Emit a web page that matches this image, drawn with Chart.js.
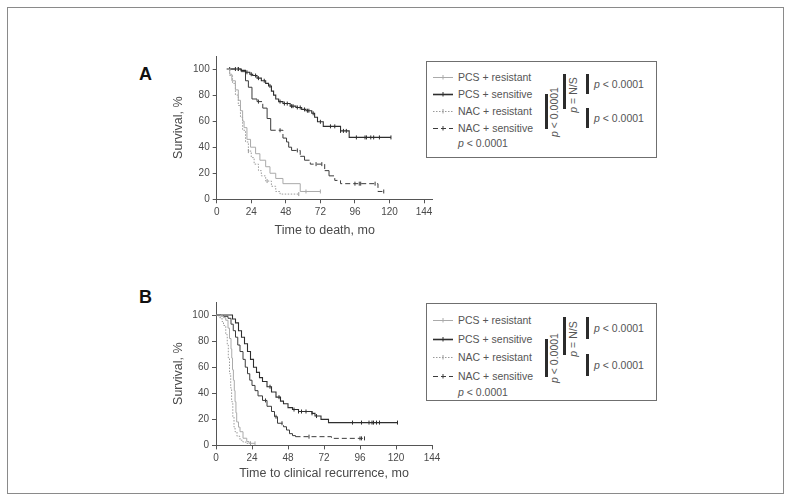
<!DOCTYPE html>
<html lang="en">
<head>
<meta charset="UTF-8">
<title>Survival by surgery and platinum response</title>
<style>
    body {
        margin: 0;
        padding: 0;
        background: #fff;
        font-family: 'Liberation Sans', Arial, sans-serif;
    }

    .frame {
        position: absolute;
        left: 7px;
        top: 7px;
        width: 775px;
        height: 485px;
        border: 1px solid #8a8a8a;
    }

    .tag {
        position: absolute;
        left: 139px;
        font-size: 18px;
        font-weight: bold;
        color: #111;
    }

    .wrap {
        position: absolute;
        left: 140px;
        width: 310px;
        height: 210px;
    }

    .key {
        position: absolute;
        left: 426px;
        width: 229px;
        border: 1px solid #6f6f6f;
        background: #fff;
        color: #555;
        font-size: 10.5px;
    }

    .key div, .key svg {
        position: absolute;
        white-space: nowrap;
    }
</style>
</head>
<body>
<div class="frame"></div>

<div class="tag" style="top:64px">A</div>
<div class="wrap" style="top:40px"><canvas id="chartA" width="310" height="210"></canvas></div>
<div class="key" id="keyA" style="top:61px;height:95px"></div>

<div class="tag" style="top:287px">B</div>
<div class="wrap" style="top:282px"><canvas id="chartB" width="310" height="210"></canvas></div>
<div class="key" id="keyB" style="top:303px;height:96px"></div>

<script src="https://cdn.jsdelivr.net/npm/chart.js@4.4.1/dist/chart.umd.min.js"></script>
<script>
(function() {
    'use strict';

    // axis ticks
    const monthTicks = [0, 24, 48, 72, 96, 120, 144];
    const pctTicks = [0, 20, 40, 60, 80, 100];

    const groups = ['PCS + resistant', 'PCS + sensitive', 'NAC + resistant', 'NAC + sensitive'];

    // A: time to death (months / survival %)
    const aPcsResT = [7, 9, 10.5, 13, 15, 16.5, 18, 19, 21, 23.5, 27, 30, 34, 37, 41, 46, 58, 72];
    const aPcsResS = [100, 96, 91, 84, 76, 68, 60, 55, 46, 40, 35, 30, 25, 20, 16, 12, 6, 6];
    const aPcsResC = [62, 72];

    const aPcsSenT = [7, 17, 20, 23, 25, 28, 31, 34, 36, 38, 39.5, 41, 43, 46, 51, 55, 59, 62, 66, 68, 70, 74, 86, 92, 121];
    const aPcsSenS = [100, 99, 97.5, 96, 95, 93, 91, 89, 87, 83, 80, 77, 75, 73.5, 71.5, 70.5, 69, 68, 66, 63, 59.5, 56, 52.5, 47.5, 47.5];
    const aPcsSenC = [9, 13, 15, 21, 24, 27, 29, 33, 37, 44, 47, 49, 52, 53, 56, 58, 61, 63, 64, 67, 72, 79, 82, 86, 88, 90, 97, 103, 104, 107, 109, 113, 121];

    const aNacResT = [7, 9, 11, 13, 15, 16.5, 18, 20, 22, 24, 26, 29, 31, 34, 38, 41, 44, 57];
    const aNacResS = [100, 95, 89, 80, 72, 63, 53, 44, 37, 32, 27, 22, 18, 14, 10, 6, 4, 4];
    const aNacResC = [22, 35, 57];

    const aNacSenT = [10, 17, 20, 22, 24.5, 28, 32, 35, 37.5, 46, 48.5, 50, 52, 58, 61, 65, 75, 78, 82, 86, 112, 116];
    const aNacSenS = [100, 98, 91, 86, 77, 75, 70, 62, 53, 47, 44, 40, 37.5, 33, 30, 27, 22, 18, 14.5, 12, 6, 6];
    const aNacSenC = [15, 29, 44, 56, 69, 73, 96, 99, 100, 110, 116];

    // B: time to clinical recurrence
    const bPcsResT = [0, 3, 5, 6.5, 8, 9, 10, 10.5, 11, 11.6, 12.2, 12.7, 13.3, 13.8, 15, 16, 18, 20.5, 22, 26];
    const bPcsResS = [100, 99, 98, 96, 90, 82, 74, 67, 58, 50, 42, 33.5, 25, 18, 14, 10.5, 5.5, 3, 1.6, 1.6];
    const bPcsResC = [26];

    const bPcsSenT = [0, 11, 13, 15, 17, 19, 21, 23, 25, 27, 29, 31, 34, 37, 40, 43, 45, 48, 51, 55, 64, 66, 70, 75, 121];
    const bPcsSenS = [100, 97, 94, 88, 83, 78, 72, 66, 60, 56, 52, 49, 45, 41, 37, 34, 32, 29, 27.5, 26, 24.6, 22.5, 20, 17.5, 17.5];
    const bPcsSenC = [36, 42, 52, 55, 57, 60, 64, 67, 91, 97, 102, 104, 105, 107, 109, 121];

    const bNacResT = [0, 2, 4, 5, 6.5, 7.5, 8.2, 9, 9.8, 10.4, 11.2, 12, 12.7, 14, 16, 18, 20.5, 23];
    const bNacResS = [100, 98, 95, 92, 85, 77, 67, 55, 44, 33.5, 22, 14, 10.5, 7, 4, 2.5, 1.6, 1.6];
    const bNacResC = [23];

    const bNacSenT = [0, 5, 8, 10, 11.5, 13, 14.5, 16, 18, 19.5, 21, 22.5, 24, 26, 28, 31, 34, 37, 39, 41, 45, 47, 49, 51, 53, 77, 99];
    const bNacSenS = [100, 99, 97.5, 93, 88, 83, 77, 72, 66, 60, 55, 50, 46, 42, 38, 34.5, 30, 26, 22, 17, 14.3, 11.8, 9, 7.5, 6.7, 5.4, 5.4];
    const bNacSenC = [33, 40, 44, 62, 96, 97, 99];

    // line look per group, same order as groups
    const looks = [
        { color: '#aaaaaa', width: 1, dash: [] },
        { color: '#2e2e2e', width: 1.1, dash: [] },
        { color: '#9a9a9a', width: 1, dash: [1.5, 1.5] },
        { color: '#3c3c3c', width: 1, dash: [5, 3], longOnly: true }
    ];

    const txt = '#4a4a4a';
    const axisCol = '#555';

    function points(T, S) {
        return T.map(function(t, i) { return { x: t, y: S[i] }; });
    }

    function survAt(T, S, t) {
        var v = S[0];
        for (var i = 0; i < T.length; i++) {
            if (T[i] <= t) v = S[i];
        }
        return v;
    }

    function censorPoints(T, S, C) {
        return C.map(function(t) { return { x: t, y: survAt(T, S, t) }; });
    }

    function buildDatasets(curves) {
        var sets = [];
        curves.forEach(function(c, i) {
            var lk = looks[i];
            var ds = {
                label: groups[i],
                data: points(c[0], c[1]),
                stepped: 'before',
                borderColor: lk.color,
                borderWidth: lk.width,
                borderDash: lk.longOnly ? [] : lk.dash,
                pointRadius: 0,
                fill: false
            };
            if (lk.longOnly) {
                // dashes show only on the flat stretches
                ds.segment = {
                    borderDash: function(ctx) {
                        return ctx.p1.parsed.x - ctx.p0.parsed.x > 3.5 ? lk.dash : [];
                    }
                };
            }
            sets.push(ds);
        });
        curves.forEach(function(c, i) {
            var lk = looks[i];
            sets.push({
                label: groups[i] + ' censored',
                data: censorPoints(c[0], c[1], c[2]),
                showLine: false,
                pointStyle: 'line',
                rotation: 90,
                pointRadius: 2,
                pointBorderColor: lk.color,
                pointBorderWidth: 1,
                borderColor: lk.color
            });
        });
        return sets;
    }

    function makeChart(id, curves, cfg) {
        var ctx = document.getElementById(id).getContext('2d');
        return new Chart(ctx, {
            type: 'line',
            data: { datasets: buildDatasets(curves) },
            options: {
                responsive: false,
                animation: false,
                devicePixelRatio: 1,
                layout: { padding: cfg.pad },
                plugins: { legend: { display: false }, tooltip: { enabled: false } },
                scales: {
                    x: {
                        type: 'linear',
                        min: 0,
                        max: cfg.xMax,
                        afterBuildTicks: function(s) {
                            s.ticks = monthTicks.map(function(v) { return { value: v }; });
                        },
                        afterFit: function(s) { s.height = cfg.xH; },
                        ticks: {
                            color: txt,
                            padding: 3,
                            maxRotation: 0,
                            autoSkip: false,
                            font: { family: 'Liberation Sans', size: 10 }
                        },
                        grid: { drawOnChartArea: false, tickLength: 4, color: axisCol },
                        border: { color: axisCol, width: 1 },
                        title: {
                            display: true,
                            text: cfg.xTitle,
                            color: txt,
                            padding: 0,
                            font: { family: 'Liberation Sans', size: 12.5 }
                        }
                    },
                    y: {
                        min: 0,
                        max: 110,
                        afterBuildTicks: function(s) {
                            s.ticks = pctTicks.map(function(v) { return { value: v }; });
                        },
                        afterFit: function(s) { s.width = cfg.yW; },
                        ticks: {
                            color: txt,
                            padding: 3,
                            font: { family: 'Liberation Sans', size: 10 }
                        },
                        grid: { drawOnChartArea: false, tickLength: 4, color: axisCol },
                        border: { color: axisCol, width: 1 },
                        title: {
                            display: true,
                            text: 'Survival, %',
                            color: txt,
                            padding: 0,
                            font: { family: 'Liberation Sans', size: 12.5 }
                        }
                    }
                }
            }
        });
    }

    makeChart('chartA', [
        [aPcsResT, aPcsResS, aPcsResC],
        [aPcsSenT, aPcsSenS, aPcsSenC],
        [aNacResT, aNacResS, aNacResC],
        [aNacSenT, aNacSenS, aNacSenC]
    ], {
        xMax: 150,
        xTitle: 'Time to death, mo',
        pad: { left: 31, right: 17.3, top: 16, bottom: 11.5 },
        yW: 45.7,
        xH: 39.2
    });

    makeChart('chartB', [
        [bPcsResT, bPcsResS, bPcsResC],
        [bPcsSenT, bPcsSenS, bPcsSenC],
        [bNacResT, bNacResS, bNacResC],
        [bNacSenT, bNacSenS, bNacSenC]
    ], {
        xMax: 144,
        xTitle: 'Time to clinical recurrence, mo',
        pad: { left: 31, right: 18, top: 20, bottom: 10.5 },
        yW: 45,
        xH: 36.1
    });

    // legend boxes with the p-value brackets
    function el(parent, html, css) {
        var d = document.createElement('div');
        d.innerHTML = html;
        d.style.cssText = css;
        parent.appendChild(d);
        return d;
    }

    function sample(parent, y, lk) {
        var ns = 'http://www.w3.org/2000/svg';
        var svg = document.createElementNS(ns, 'svg');
        svg.setAttribute('width', '20');
        svg.setAttribute('height', '8');
        svg.style.left = '6px';
        svg.style.top = (y - 4) + 'px';
        var ln = document.createElementNS(ns, 'line');
        ln.setAttribute('x1', '0'); ln.setAttribute('x2', '20');
        ln.setAttribute('y1', '4.5'); ln.setAttribute('y2', '4.5');
        ln.setAttribute('stroke', lk.color);
        ln.setAttribute('stroke-width', lk.width === 1 ? '1' : '1.6');
        if (lk.dash.length) ln.setAttribute('stroke-dasharray', lk.dash.join(' '));
        var tk = document.createElementNS(ns, 'line');
        tk.setAttribute('x1', '10'); tk.setAttribute('x2', '10');
        tk.setAttribute('y1', '2'); tk.setAttribute('y2', '6.5');
        tk.setAttribute('stroke', lk.color);
        svg.appendChild(ln);
        svg.appendChild(tk);
        parent.appendChild(svg);
    }

    function buildKey(id, base, gap) {
        var key = document.getElementById(id);
        var rows = [0, 1, 2, 3].map(function(i) { return base + i * gap; });
        groups.forEach(function(g, i) {
            sample(key, rows[i], looks[i]);
            el(key, g, 'left:31px;top:' + (rows[i] - 7) + 'px;line-height:14px');
        });
        el(key, '<i>p</i> &lt; 0.0001', 'left:31px;top:' + (rows[3] + gap - 9) + 'px;line-height:14px');

        var b1 = [rows[1], rows[3] + 1];
        var b2 = [rows[0] - 3, rows[2] - 2];
        var b3 = [rows[0] - 3, rows[1]];
        var b4 = [rows[2] - 3, rows[3]];
        [[118, b1], [136, b2], [159, b3], [159, b4]].forEach(function(b) {
            el(key, '', 'left:' + b[0] + 'px;top:' + b[1][0] + 'px;height:' + (b[1][1] - b[1][0]) + 'px;width:3px;background:#2b2b2b');
        });
        el(key, '<i>p</i> &lt; 0.0001',
           'left:127px;top:' + ((b1[0] + b1[1]) / 2) + 'px;transform:translate(-50%,-50%) rotate(-90deg);line-height:12px');
        el(key, '<i>p</i> = N/S',
           'left:146px;top:' + ((b2[0] + b2[1]) / 2 + 3) + 'px;transform:translate(-50%,-50%) rotate(-90deg);line-height:12px');
        el(key, '<i>p</i> &lt; 0.0001', 'left:167px;top:' + ((b3[0] + b3[1]) / 2 - 7) + 'px;line-height:14px');
        el(key, '<i>p</i> &lt; 0.0001', 'left:167px;top:' + ((b4[0] + b4[1]) / 2 - 7) + 'px;line-height:14px');
    }

    buildKey('keyA', 15, 17);
    buildKey('keyB', 16, 18.5);
})();
</script>
</body>
</html>
